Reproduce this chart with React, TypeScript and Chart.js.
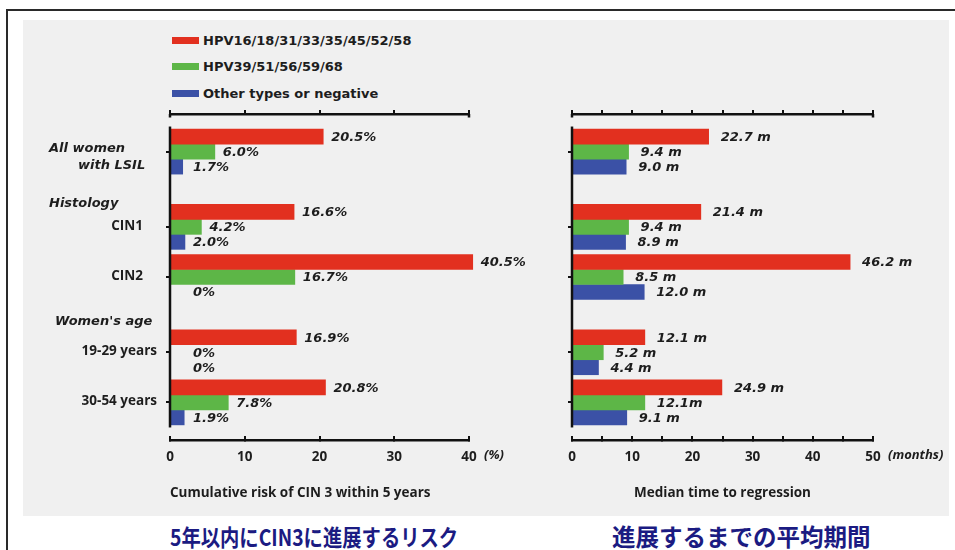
import React, { useEffect, useRef } from 'react';
import { Chart, registerables } from 'chart.js';

Chart.register(...registerables);

// ---------- data ----------
const legendLabels = ['HPV16/18/31/33/35/45/52/58', 'HPV39/51/56/59/68', 'Other types or negative'];
const seriesColors = ['#e2301f', '#5db647', '#3b51a6'];

const groups = ['All women\nwith LSIL', 'CIN1', 'CIN2', '19-29 years', '30-54 years'];
const headers = ['Histology', "Women's age"];
// rows of the category axis (blank rows are spacing, headers carry no bars)
const rows = ['', groups[0], '', headers[0], groups[1], '', groups[2], '', headers[1], groups[3], '', groups[4], ''];

const riskHigh = [20.5, 16.6, 40.5, 16.9, 20.8];
const riskMid = [6.0, 4.2, 16.7, 0, 7.8];
const riskOther = [1.7, 2.0, 0, 0, 1.9];

const timeHigh = [22.7, 21.4, 46.2, 12.1, 24.9];
const timeMid = [9.4, 9.4, 8.5, 5.2, 12.1];
const timeOther = [9.0, 8.9, 12.0, 4.4, 9.1];
const timeHighLabels = ['22.7 m', '21.4 m', '46.2 m', '12.1 m', '24.9 m'];
const timeMidLabels = ['9.4 m', '9.4 m', '8.5 m', '5.2 m', '12.1m'];
const timeOtherLabels = ['9.0 m', '8.9 m', '12.0 m', '4.4 m', '9.1 m'];

const riskMax = 40;
const timeMax = 50;
const riskTitle = 'Cumulative risk of CIN 3 within 5 years';
const timeTitle = 'Median time to regression';
const riskUnit = '(%)';
const timeUnit = '(months)';
const jpRisk = '5年以内にCIN3に進展するリスク';
const jpTime = '進展するまでの平均期間';

// ---------- helpers ----------
const DV = "'DejaVu Sans', sans-serif";
const OS = "'Open Sans', 'DejaVu Sans', sans-serif";
const INK = '#1d1d1d';
const AXIS = '#111111';

const toRows = (vals: number[]) =>
  rows.map((r) => {
    const g = groups.indexOf(r);
    return g >= 0 ? vals[g] : null;
  });

const fmtRisk = (v: number) => (v === 0 ? '0%' : v.toFixed(1) + '%');

function axesPlugin(unit: string) {
  return {
    id: 'customAxes',
    afterDraw(chart: any) {
      const ctx = chart.ctx;
      const area = chart.chartArea;
      const x = chart.scales.x;
      const y = chart.scales.y;
      const x0 = x.getPixelForValue(x.min);
      const x1 = x.getPixelForValue(x.max);
      ctx.save();
      ctx.fillStyle = AXIS;
      // vertical category axis line, from first to last row
      const yA = y.getPixelForTick(0);
      const yB = y.getPixelForTick(rows.length - 1);
      ctx.fillRect(area.left - 1.25, yA, 2.5, yB - yA);
      // hooks at the ends of the top axis
      ctx.fillRect(x0 - 1.25, area.top, 2.5, 3.5);
      ctx.fillRect(x1 - 1.25, area.top, 2.5, 3.5);
      // unit after the last tick label
      ctx.fillStyle = INK;
      ctx.font = `italic bold 13px ${OS}`;
      ctx.textBaseline = 'middle';
      ctx.textAlign = 'left';
      ctx.fillText(unit, x1 + 15, area.bottom + 15);
      ctx.restore();
    },
  };
}

function valueLabelPlugin(texts: string[][], gap: number, minGap: number) {
  return {
    id: 'valueLabels',
    afterDatasetsDraw(chart: any) {
      const { ctx, chartArea } = chart;
      ctx.save();
      ctx.font = `italic bold 13px ${DV}`;
      ctx.fillStyle = INK;
      ctx.textBaseline = 'middle';
      ctx.textAlign = 'left';
      chart.data.datasets.forEach((ds: any, di: number) => {
        const meta = chart.getDatasetMeta(di);
        let g = 0;
        ds.data.forEach((v: any, i: number) => {
          if (v === null) return;
          const el = meta.data[i];
          const px = Math.max(el.x + gap, chartArea.left + minGap);
          ctx.fillText(texts[di][g], px, el.y + 1);
          g++;
        });
      });
      ctx.restore();
    },
  };
}

const rowLabelPlugin = {
  id: 'rowLabels',
  afterDraw(chart: any) {
    const { ctx } = chart;
    const y = chart.scales.y;
    ctx.save();
    ctx.fillStyle = INK;
    ctx.textBaseline = 'middle';
    rows.forEach((r, i) => {
      if (!r) return;
      const py = y.getPixelForTick(i);
      if (headers.includes(r)) {
        ctx.font = `italic bold 13px ${DV}`;
        ctx.textAlign = 'left';
        if (r === headers[0]) ctx.fillText(r, 49, py + 2);
        else ctx.fillText(r, 55, py - 6);
      } else if (r.includes('\n')) {
        const [a, b] = r.split('\n');
        ctx.font = `italic bold 13px ${DV}`;
        ctx.textAlign = 'left';
        ctx.fillText(a, 49, py - 3);
        ctx.fillText(b, 78, py + 14);
      } else {
        ctx.font = `bold 13.5px ${OS}`;
        ctx.textAlign = 'right';
        ctx.fillText(r, r.includes('years') ? 157 : 143, py - 1);
      }
    });
    ctx.restore();
  },
};

function makeConfig(opts: {
  series: number[][];
  texts: string[][];
  max: number;
  step: number;
  unit: string;
  title: string;
  titleAlign: 'start' | 'center';
  yWidth: number;
  padRight: number;
  gap: number;
  minGap: number;
  extra: any[];
}) {
  return {
    type: 'bar' as const,
    data: {
      labels: rows,
      datasets: opts.series.map((vals, i) => ({
        label: legendLabels[i],
        data: toRows(vals),
        backgroundColor: seriesColors[i],
        borderWidth: 0,
        barThickness: 15,
        xAxisID: 'x',
        clip: false as any,
      })),
    },
    options: {
      responsive: false,
      animation: false as const,
      indexAxis: 'y' as const,
      layout: { padding: { top: 114, right: opts.padRight, left: 0, bottom: 0 } },
      plugins: { legend: { display: false }, tooltip: { enabled: false } },
      scales: {
        y: {
          type: 'category' as const,
          offset: true,
          afterFit: (s: any) => {
            s.width = opts.yWidth;
          },
          grid: {
            offset: false,
            drawOnChartArea: false,
            drawTicks: true,
            tickLength: 4,
            lineWidth: 2,
            color: (c: any) => (groups.includes(rows[c.index]) ? AXIS : 'rgba(0,0,0,0)'),
          },
          border: { display: false },
          ticks: { display: false, autoSkip: false },
        },
        x: {
          type: 'linear' as const,
          position: 'bottom' as const,
          min: 0,
          max: opts.max,
          afterFit: (s: any) => {
            s.height = 76;
          },
          grid: {
            display: true,
            drawOnChartArea: false,
            drawTicks: true,
            tickLength: -4,
            lineWidth: 2,
            color: AXIS,
          },
          border: { display: true, color: AXIS, width: 2.5 },
          ticks: {
            stepSize: opts.step,
            autoSkip: false,
            padding: 13,
            color: INK,
            font: { family: OS, size: 13.5, weight: 'bold' as any },
            callback: (v: any) => (Number(v) % 10 === 0 ? String(v) : ''),
          },
          title: {
            display: true,
            text: opts.title,
            align: opts.titleAlign,
            color: INK,
            font: { family: OS, size: 13.5, weight: 'bold' as any },
            padding: { top: 0, bottom: 15 },
          },
        },
        xTop: {
          type: 'linear' as const,
          position: 'top' as const,
          min: 0,
          max: opts.max,
          afterFit: (s: any) => {
            s.height = 0;
          },
          grid: {
            display: true,
            drawOnChartArea: false,
            drawTicks: true,
            tickLength: 4,
            lineWidth: 2,
            color: AXIS,
          },
          border: { display: true, color: AXIS, width: 2.5 },
          ticks: { display: false, stepSize: opts.step, autoSkip: false },
        },
      },
    },
    plugins: [axesPlugin(opts.unit), valueLabelPlugin(opts.texts, opts.gap, opts.minGap), ...opts.extra],
  };
}

function ChartCanvas({ config, left, width }: { config: any; left: number; width: number }) {
  const ref = useRef<HTMLCanvasElement>(null);
  useEffect(() => {
    if (!ref.current) return;
    const chart = new Chart(ref.current, config);
    return () => chart.destroy();
  }, []);
  return (
    <canvas
      ref={ref}
      width={width}
      height={516}
      style={{ position: 'absolute', left, top: 0, width, height: 516 }}
    />
  );
}

const jpStyle: React.CSSProperties = {
  position: 'absolute',
  top: 521,
  fontFamily: "'Noto Sans CJK JP', sans-serif",
  fontWeight: 'bold',
  fontSize: 23,
  lineHeight: '30px',
  color: '#1b1b82',
  whiteSpace: 'nowrap',
  transformOrigin: 'left center',
};

export default function App() {
  const leftConfig = makeConfig({
    series: [riskHigh, riskMid, riskOther],
    texts: [riskHigh.map(fmtRisk), riskMid.map(fmtRisk), riskOther.map(fmtRisk)],
    max: riskMax,
    step: 10,
    unit: riskUnit,
    title: riskTitle,
    titleAlign: 'start',
    yWidth: 170,
    padRight: 71,
    gap: 8,
    minGap: 23,
    extra: [rowLabelPlugin],
  });
  const rightConfig = makeConfig({
    series: [timeHigh, timeMid, timeOther],
    texts: [timeHighLabels, timeMidLabels, timeOtherLabels],
    max: timeMax,
    step: 5,
    unit: timeUnit,
    title: timeTitle,
    titleAlign: 'center',
    yWidth: 32,
    padRight: 82,
    gap: 12,
    minGap: 0,
    extra: [],
  });

  return (
    <div
      style={{
        position: 'absolute',
        left: 0,
        top: 0,
        width: 955,
        height: 550,
        overflow: 'hidden',
        background: '#ffffff',
      }}
    >
      <div
        style={{
          position: 'absolute',
          left: 6,
          top: 9,
          width: 960,
          height: 560,
          borderTop: '2px solid #2a2a2a',
          borderLeft: '2px solid #2a2a2a',
        }}
      />
      <div style={{ position: 'absolute', left: 23, top: 20, width: 926, height: 496, background: '#f0f0f0' }} />
      {legendLabels.map((l, i) => (
        <div
          key={l}
          style={{
            position: 'absolute',
            left: 172,
            top: 31 + i * 26.5,
            height: 18,
            display: 'flex',
            alignItems: 'center',
            fontFamily: DV,
            fontWeight: 'bold',
            fontSize: 13,
            color: INK,
            whiteSpace: 'nowrap',
          }}
        >
          <span style={{ display: 'inline-block', width: 27, height: 7, background: seriesColors[i], marginRight: 4 }} />
          {l}
        </div>
      ))}
      <div style={{ ...jpStyle, left: 170, transform: 'scaleX(0.84)' }}>{jpRisk}</div>
      <div style={{ ...jpStyle, left: 612, fontSize: 23.5 }}>{jpTime}</div>
      <ChartCanvas config={leftConfig} left={0} width={540} />
      <ChartCanvas config={rightConfig} left={540} width={415} />
    </div>
  );
}
